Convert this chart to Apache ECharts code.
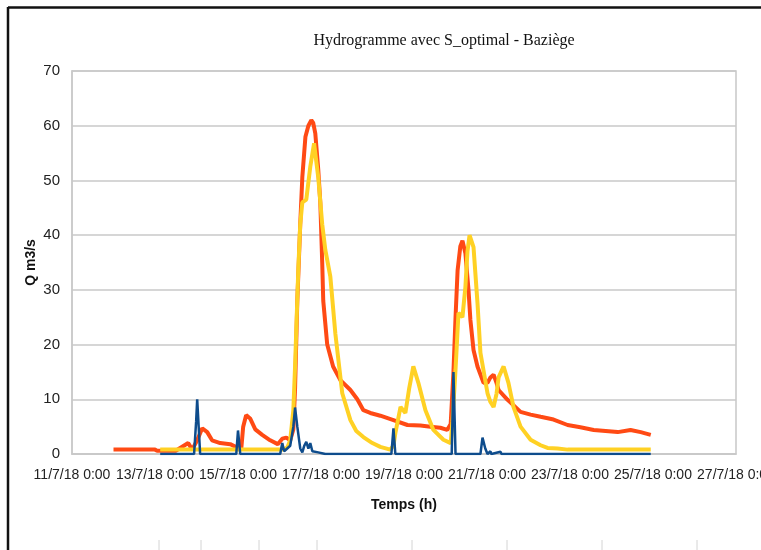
<!DOCTYPE html>
<html>
<head>
<meta charset="utf-8">
<script src="https://cdn.jsdelivr.net/npm/echarts@6/dist/echarts.min.js"></script>
<style>html,body{margin:0;padding:0;background:#fff;}#c{width:761px;height:550px;}</style>
</head>
<body>
<div id="c"></div>
<script>
// Time in hours since 11/7/18 0:00
var xTickDays = ["11/7/18 0:00","13/7/18 0:00","15/7/18 0:00","17/7/18 0:00","19/7/18 0:00","21/7/18 0:00","23/7/18 0:00","25/7/18 0:00","27/7/18 0:00"];
var yTicks = [0,10,20,30,40,50,60,70];

var redHours = [24,48,49.2,60,67.2,69.5,72.4,75.3,78.2,81,85.7,91.5,95.5,97.9,99,100.7,103,106,110,114.6,119,121.6,124,126.2,128,129,130.3,132,133.2,135,136.7,138.4,139.5,140.7,142.4,143.6,144.7,145.3,147.6,151,155.2,161,165,168.5,172.5,178.3,185.9,194,201.5,207.3,213,217,219,220.6,221.8,223,224.6,225.8,227.5,229.3,230.4,232.2,234.5,238,240.3,242,243.8,245.5,246.7,251.9,259.4,265.2,271,278.5,286.6,294,301.7,308.6,315.6,323,328.9,334.7];
var redValues = [0.8,0.8,0.6,0.6,2,0.8,2.5,4.7,4,2.5,2.0,1.8,1.2,1.0,5,7.1,6.5,4.5,3.5,2.5,1.8,2.8,3,2.5,4.5,12,28,42,50.6,58,60,61,60.5,58.6,52,46,35,28,20,16,13.5,11.7,10,8,7.5,7,6.2,5.3,5.2,5.0,4.8,4.4,5.5,15,25,33.6,38,39,36.7,30,24.5,19,16,13,13,14,14.5,13,11.7,9.9,7.7,7.2,6.8,6.3,5.3,4.9,4.4,4.2,4.0,4.4,4.0,3.5];

var yellowHours = [51,122.2,124.5,126.2,128,129,130.9,132,133.2,135.5,137.8,140,142.4,144.7,146.5,149.4,152.3,156.3,161,164.4,168.5,173.7,178.3,184,185.9,187,190,192.8,195,197.4,200.3,204.4,209,214.8,219,220,221.8,223.5,225.8,227.5,228.7,229.9,232.2,234.5,236.2,240.3,242,243.8,245.5,246.7,249.6,252.4,255.3,259.4,265.2,271,275,280.8,286.6,334.7];
var yellowValues = [0.8,0.8,1.2,2.5,8,16,34,42,46,46.5,52.5,56.8,50.6,42,37.3,32.4,22,11.1,6.2,4.2,3.1,2,1.3,0.8,1.5,3.8,8.6,7.5,12,16,13,8,4.4,2.6,2,6,15.4,25.8,25,30.5,37,40,37.8,27.6,18.5,11.1,9.5,8.6,11,14,16,13,8.6,5,2.6,1.6,1.1,1.0,0.8,0.8];

var blueHours = [51,70.6,71.8,72.4,73.6,74.1,95,96,97.3,120.4,121.6,122.7,126.2,128,129,130.3,132,133.2,134.3,135.5,136.7,137.8,139,142.4,146.5,184.7,185.9,187,219.6,220.6,221.8,236.2,237.4,239,240.3,242,242.5,247.8,248.4,334.7];
var blueValues = [0,0,6,10,3,0,0,4.3,0,0,2,0.5,1.5,5,8.5,5,1,0.3,1.5,2.2,1,2,0.5,0.3,0,0,4.7,0,0,15,0,0,3,1,0,0.5,0,0.4,0,0];

function pairs(h, v){ return h.map(function(x,i){ return [x, v[i]]; }); }

var chart = echarts.init(document.getElementById('c'), null, {renderer:'canvas'});
var labelFont = "'Liberation Sans',Arial,sans-serif";
var bottomTicks = [159,201,259,317,412,507,602,697];
var graphics = [
  {type:'line', shape:{x1:8,y1:7.5,x2:761,y2:7.5}, style:{stroke:'#111',lineWidth:2.5}, silent:true},
  {type:'line', shape:{x1:8,y1:7,x2:8,y2:550}, style:{stroke:'#111',lineWidth:2.5}, silent:true}
];
bottomTicks.forEach(function(x){
  graphics.push({type:'line', shape:{x1:x,y1:540,x2:x,y2:550}, style:{stroke:'#d4d4d4',lineWidth:1}, silent:true});
});

chart.setOption({
  animation:false,
  backgroundColor:'#fff',
  title:{
    text:'Hydrogramme avec S_optimal - Baziège',
    left:439, top:28, textAlign:'center',
    textStyle:{fontFamily:"'Liberation Serif','Times New Roman',serif", fontSize:16, fontWeight:'normal', color:'#111'}
  },
  graphic: graphics,
  grid:{left:72, right:25, top:71, bottom:96, show:true, borderColor:'#c8c8c8', borderWidth:1.5,
        containLabel:false, outerBoundsMode:'none'},
  xAxis:{
    type:'value', min:0, max:384, interval:48,
    name:'Temps (h)', nameLocation:'middle', nameGap:44,
    nameTextStyle:{fontFamily:labelFont, fontSize:14, fontWeight:'bold', color:'#111'},
    axisLine:{show:true, lineStyle:{color:'#c8c8c8', width:1.5}},
    axisTick:{show:false},
    splitLine:{show:false},
    axisLabel:{
      margin:14, color:'#222', fontFamily:labelFont, fontSize:14,
      showMaxLabel:true, showMinLabel:true, hideOverlap:false,
      formatter:function(v){ var i = Math.round(v/48); return xTickDays[i] || ''; }
    }
  },
  yAxis:{
    type:'value', min:yTicks[0], max:yTicks[yTicks.length-1], interval:10,
    name:'Q m3/s', nameLocation:'middle', nameGap:34, nameRotate:90, nameMoveOverlap:false,
    nameTextStyle:{fontFamily:labelFont, fontSize:14, fontWeight:'bold', color:'#111'},
    axisLine:{show:true, lineStyle:{color:'#c8c8c8', width:1.5}},
    axisTick:{show:false},
    splitLine:{show:true, lineStyle:{color:'#c8c8c8', width:1.5}},
    axisLabel:{margin:12, color:'#222', fontFamily:labelFont, fontSize:15}
  },
  series:[
    {type:'line', name:'Observé', data:pairs(redHours, redValues), showSymbol:false, symbol:'none',
     lineStyle:{color:'#ff4a14', width:4}, itemStyle:{color:'#ff4a14'}, z:2},
    {type:'line', name:'Simulé', data:pairs(yellowHours, yellowValues), showSymbol:false, symbol:'none',
     lineStyle:{color:'#ffd124', width:4}, itemStyle:{color:'#ffd124'}, z:3},
    {type:'line', name:'Pluie', data:pairs(blueHours, blueValues), showSymbol:false, symbol:'none',
     lineStyle:{color:'#0e4c8c', width:2.5}, itemStyle:{color:'#0e4c8c'}, z:4}
  ]
});
</script>
</body>
</html>
